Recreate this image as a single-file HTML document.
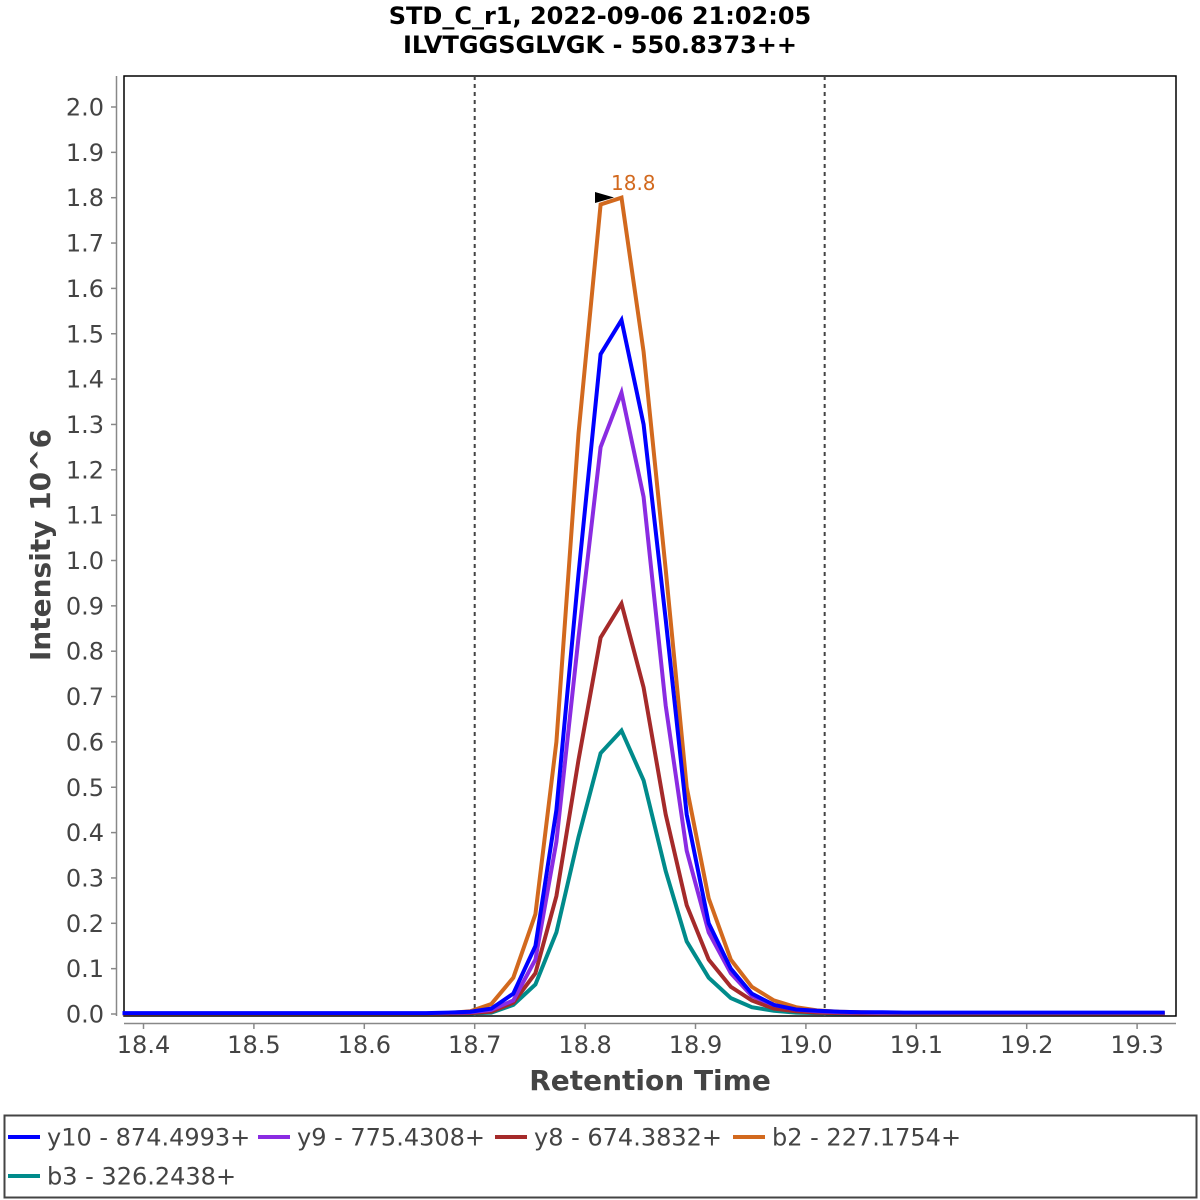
<!DOCTYPE html>
<html><head><meta charset="utf-8"><style>
html,body{margin:0;padding:0;background:#fff;}
svg{display:block;font-family:"DejaVu Sans","Liberation Sans",sans-serif;}
</style></head><body>
<svg id="chart" width="1200" height="1200" xmlns="http://www.w3.org/2000/svg">
<text x="600" y="24" text-anchor="middle" font-size="24" font-weight="bold" fill="#000">STD_C_r1, 2022-09-06 21:02:05</text>
<text x="600" y="53" text-anchor="middle" font-size="24" font-weight="bold" fill="#000">ILVTGGSGLVGK - 550.8373++</text>
<rect x="124" y="76" width="1052" height="940" fill="#fff" stroke="#000" stroke-width="1.5"/>
<line x1="116.5" y1="76" x2="116.5" y2="1016" stroke="#888" stroke-width="1.5"/>
<line x1="124" y1="1023.5" x2="1176" y2="1023.5" stroke="#888" stroke-width="1.5"/>
<g id="yticks"></g><g id="xticks"></g>
<g id="vlines"></g>
<g id="series"></g>
<polygon points="595,192 595,203 614,197.5" fill="#000"/>
<text x="611" y="190" font-size="20" fill="#d2691e">18.8</text>
<text x="650" y="1090" text-anchor="middle" font-size="28" font-weight="bold" fill="#444">Retention Time</text>
<text transform="translate(50,545) rotate(-90)" text-anchor="middle" font-size="28" font-weight="bold" fill="#444">Intensity 10^6</text>
<rect x="4.5" y="1115.5" width="1192" height="82" fill="none" stroke="#444" stroke-width="2"/>
<g id="legend"></g>
</svg>
<script>
const times=[18.381,18.401,18.421,18.440,18.460,18.479,18.499,18.519,18.538,18.558,18.578,18.597,18.617,18.637,18.656,18.676,18.696,18.715,18.735,18.755,18.774,18.794,18.814,18.833,18.853,18.873,18.892,18.912,18.932,18.951,18.971,18.991,19.010,19.030,19.050,19.069,19.089,19.109,19.128,19.148,19.168,19.187,19.207,19.227,19.246,19.266,19.286,19.305,19.325];
const y10=[0.002,0.002,0.002,0.002,0.002,0.002,0.002,0.002,0.002,0.002,0.002,0.002,0.002,0.002,0.002,0.003,0.005,0.012,0.045,0.15,0.45,0.97,1.455,1.53,1.30,0.87,0.44,0.20,0.10,0.045,0.02,0.01,0.007,0.005,0.004,0.004,0.003,0.003,0.003,0.003,0.003,0.003,0.003,0.003,0.003,0.003,0.003,0.003,0.003];
const y9=[0.001,0.001,0.001,0.001,0.001,0.001,0.001,0.001,0.001,0.001,0.001,0.001,0.001,0.001,0.001,0.002,0.004,0.009,0.03,0.12,0.38,0.83,1.25,1.37,1.14,0.68,0.36,0.18,0.09,0.04,0.02,0.01,0.006,0.004,0.003,0.002,0.002,0.002,0.002,0.002,0.002,0.002,0.002,0.002,0.002,0.002,0.002,0.002,0.002];
const y8=[0.001,0.001,0.001,0.001,0.001,0.001,0.001,0.001,0.001,0.001,0.001,0.001,0.001,0.001,0.001,0.001,0.002,0.005,0.025,0.09,0.26,0.56,0.83,0.905,0.72,0.44,0.24,0.12,0.06,0.03,0.012,0.006,0.003,0.002,0.001,0.001,0.001,0.001,0.001,0.001,0.001,0.001,0.001,0.001,0.001,0.001,0.001,0.001,0.001];
const b2=[0.001,0.001,0.001,0.001,0.001,0.001,0.001,0.001,0.001,0.001,0.001,0.001,0.001,0.001,0.001,0.002,0.006,0.022,0.08,0.22,0.60,1.28,1.785,1.80,1.46,0.98,0.50,0.255,0.12,0.06,0.03,0.015,0.008,0.005,0.004,0.003,0.002,0.002,0.002,0.002,0.002,0.002,0.002,0.002,0.002,0.002,0.002,0.002,0.002];
const b3=[0.001,0.001,0.001,0.001,0.001,0.001,0.001,0.001,0.001,0.001,0.001,0.001,0.001,0.001,0.001,0.001,0.001,0.003,0.02,0.065,0.18,0.39,0.575,0.625,0.515,0.315,0.16,0.08,0.035,0.015,0.007,0.003,0.002,0.001,0.001,0.001,0.001,0.001,0.001,0.001,0.001,0.001,0.001,0.001,0.001,0.001,0.001,0.001,0.001];
const seriesNames=["y10 - 874.4993+","y9 - 775.4308+","y8 - 674.3832+","b2 - 227.1754+","b3 - 326.2438+"];
const yTicks=[0.0,0.1,0.2,0.3,0.4,0.5,0.6,0.7,0.8,0.9,1.0,1.1,1.2,1.3,1.4,1.5,1.6,1.7,1.8,1.9,2.0];
const xTicks=[18.4,18.5,18.6,18.7,18.8,18.9,19.0,19.1,19.2,19.3];
const boundaries=[18.7,19.017];

const NS="http://www.w3.org/2000/svg";
function X(v){return 143.5+(v-18.4)*1104;}
function Y(v){return 1014-v*453.5;}
function mk(tag,attrs,parent){const e=document.createElementNS(NS,tag);for(const k in attrs)e.setAttribute(k,attrs[k]);parent.appendChild(e);return e;}

const yt=document.getElementById('yticks');
yTicks.forEach(v=>{
  const l=mk('line',{x1:111,x2:116.5,y1:Y(v),y2:Y(v),stroke:'#888','stroke-width':1.5},yt);
  
  
  const t=mk('text',{x:104,y:Y(v)+8.5,'text-anchor':'end','font-size':24,fill:'#444'},yt);
  t.textContent=v.toFixed(1);
  
  
});
const xt=document.getElementById('xticks');
xTicks.forEach(v=>{
  const l=mk('line',{x1:X(v),x2:X(v),y1:1023.5,y2:1029,stroke:'#888','stroke-width':1.5},xt);
  
  
  const t=mk('text',{x:X(v),y:1053,'text-anchor':'middle','font-size':24,fill:'#444'},xt);
  t.textContent=v.toFixed(1);
  
  
});
const vl=document.getElementById('vlines');
boundaries.forEach(v=>{
  const l=mk('line',{x1:X(v),x2:X(v),y1:76,y2:1016,stroke:'#444','stroke-width':2,'stroke-dasharray':'4,4'},vl);
  
  
});
const colors=["#0000ff","#8a2be2","#a52a2a","#d2691e","#008b8b"];
const allSeries=[y10,y9,y8,b2,b3];
const keys=["y10","y9","y8","b2","b3"];
const sg=document.getElementById('series');
const order=[4,2,1,3,0];
order.forEach(i=>{
  const d=allSeries[i].map((v,j)=>(j?'L':'M')+X(times[j]).toFixed(1)+','+Y(v).toFixed(1)).join(' ');
  const p=mk('path',{d:d,fill:'none',stroke:colors[i],'stroke-width':4,'stroke-linejoin':'miter'},sg);
  
  
});
const lg=document.getElementById('legend');
const lx=[8,258,495,733,8], ly=[1137,1137,1137,1137,1176];
seriesNames.forEach((n,i)=>{
  const g=mk('g',{},lg);
  
  
  mk('line',{x1:lx[i],x2:lx[i]+32,y1:ly[i],y2:ly[i],stroke:colors[i],'stroke-width':4},g);
  const t=mk('text',{x:lx[i]+39,y:ly[i]+8.5,'font-size':24,fill:'#444'},g);
  t.textContent=n;
});
</script>
</body></html>
